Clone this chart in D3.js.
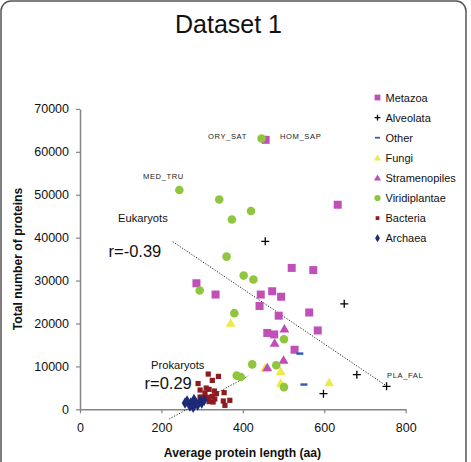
<!DOCTYPE html>
<html><head><meta charset="utf-8">
<script src="https://cdn.jsdelivr.net/npm/d3@7"></script>
<style>body{margin:0;background:#fff}svg{display:block;font-family:"Liberation Sans",Arial,sans-serif}</style>
</head><body>
<svg id="c" width="471" height="462"></svg>
<script>
// ---- data (average protein length, total number of proteins) ----
const seriesNames = ["Metazoa","Alveolata","Other","Fungi","Stramenopiles","Viridiplantae","Bacteria","Archaea"];
const metazoa = [[456,62790],[633,47670],[520,32950],[573,32440],[286,29370],[333,26740],[444,26740],[472,27510],[494,26230],[441,24070],[488,21810],[563,22560],[584,18370],[460,17790],[477,17440],[527,13880]];
const alveolata = [[455,39140],[649,24580],[680,8070],[753,5350],[598,3650]];
const other = [[540,12980],[550,5770]];
const fungi = [[370,20070],[493,8840],[493,6120],[612,6210],[454,9600]];
const stramenopiles = [[502,18720],[478,15420],[500,11470],[460,9720]];
const viridiplantae = [[446,63090],[244,51090],[342,48880],[420,46210],[373,44230],[360,35580],[402,31160],[426,30230],[294,27670],[379,22400],[501,16330],[423,10470],[482,10280],[385,7840],[395,7510],[501,5160]];
const bacteria = [[315,8210],[340,7670],[325,6740],[290,6000],[295,4490],[310,4950],[317,4650],[330,4260],[307,3790],[335,3650],[354,3880],[313,2790],[325,3020],[304,2790],[331,2400],[317,1790],[327,1700],[352,1930],[368,2090],[356,930],[295,2860]];
const archaea = [[263,1930],[272,1470],[280,2260],[285,1470],[295,1930],[299,1470],[305,2090],[270,770],[278,470],[258,1470],[289,1000]];
const eukTrend = [[228,39060],[753,5440]];
const proTrend = [[219,-2265],[413,7775]];
const xTicks = [0,200,400,600,800];
const yTicks = [0,10000,20000,30000,40000,50000,60000,70000];
const pointLabels = [["ORY_SAT",208,63000],["HOM_SAP",280,63000],["MED_TRU",143,53750],["PLA_FAL",387,7300]];

const colors = {Metazoa:"#c050b8",Alveolata:"#000",Other:"#2a5cb0",Fungi:"#f0e94c",Stramenopiles:"#c04db6",Viridiplantae:"#8fc63e",Bacteria:"#8e1b1f",Archaea:"#1c2a78"};
const allData = {Metazoa:metazoa,Alveolata:alveolata,Other:other,Fungi:fungi,Stramenopiles:stramenopiles,Viridiplantae:viridiplantae,Bacteria:bacteria,Archaea:archaea};

const svg = d3.select("#c");
svg.append("rect").attr("x",1).attr("y",1).attr("width",465).attr("height",475).attr("rx",10)
  .attr("fill","#fff").attr("stroke","#555").attr("stroke-width",1.5);

const x = d3.scaleLinear().domain([0,800]).range([80,405.7]);
const y = d3.scaleLinear().domain([0,70000]).range([409.3,108.9]);

// axes
const gx = svg.append("g").attr("transform","translate(0,409.3)")
  .call(d3.axisBottom(x).tickValues(xTicks).tickSize(4).tickSizeOuter(0).tickPadding(10).tickFormat(d3.format("d")));
const gy = svg.append("g").attr("transform","translate(80,0)")
  .call(d3.axisLeft(y).tickValues(yTicks).tickSize(4).tickSizeOuter(0).tickPadding(7).tickFormat(d3.format("d")));
[gx,gy].forEach(g=>{
  g.select(".domain").attr("stroke","#858585").attr("stroke-width",1.5);
  g.selectAll(".tick line").attr("stroke","#858585").attr("stroke-width",1.2);
  g.selectAll(".tick text").attr("font-size",12.5).attr("fill","#111").attr("font-family","Liberation Sans, Arial, sans-serif");
});

// trend lines
const line = d3.line().x(d=>x(d[0])).y(d=>y(d[1]));
[eukTrend,proTrend].forEach(t=>svg.append("path").attr("d",line(t)).attr("fill","none")
  .attr("stroke","#222").attr("stroke-width",1).attr("stroke-dasharray","1.2,1.6"));

// markers
function drawMarker(g, name, cx, cy, s){
  const c = colors[name];
  if(name==="Metazoa"){ g.append("rect").attr("x",cx-4*s).attr("y",cy-4*s).attr("width",8*s).attr("height",8*s).attr("fill",c); }
  else if(name==="Alveolata"){ g.append("path").attr("d",`M${cx-4*s},${cy}H${cx+4*s}M${cx},${cy-4*s}V${cy+4*s}`).attr("stroke",c).attr("stroke-width",1.3); }
  else if(name==="Other"){ g.append("rect").attr("x",cx-3.5*s).attr("y",cy-1.2*s).attr("width",7*s).attr("height",2.4*s).attr("fill",c); }
  else if(name==="Fungi"||name==="Stramenopiles"){ g.append("path").attr("d",d3.symbol(d3.symbolTriangle, 42*s*s)()).attr("transform",`translate(${cx},${cy+0.8*s})`).attr("fill",c); }
  else if(name==="Viridiplantae"){ g.append("circle").attr("cx",cx).attr("cy",cy).attr("r",4.3*s).attr("fill",c); }
  else if(name==="Bacteria"){ g.append("rect").attr("x",cx-2.6*s).attr("y",cy-2.6*s).attr("width",5.2*s).attr("height",5.2*s).attr("fill",c); }
  else if(name==="Archaea"){ g.append("path").attr("d",d3.symbol(d3.symbolDiamond, 38*s*s)()).attr("transform",`translate(${cx},${cy})`).attr("fill",c); }
}
const gm = svg.append("g");
seriesNames.forEach(n=>allData[n].forEach(d=>drawMarker(gm,n,x(d[0]),y(d[1]),1)));

// legend
const lg = svg.append("g");
seriesNames.forEach((n,i)=>{
  const ly = 97.5 + i*20.1;
  drawMarker(lg,n,377.5,ly,0.72);
  lg.append("text").attr("x",385.5).attr("y",ly+4).attr("font-size",11).attr("fill","#111").text(n);
});

// annotations
svg.append("text").attr("x",228.5).attr("y",32.5).attr("text-anchor","middle").attr("font-size",25).attr("fill","#111").text("Dataset 1");
pointLabels.forEach(p=>svg.append("text").attr("x",p[1]).attr("y",y(p[2])).attr("font-size",7.6).attr("letter-spacing",0.6).attr("fill","#222").text(p[0]));
svg.append("text").attr("x",118).attr("y",222).attr("font-size",11.2).attr("fill","#111").text("Eukaryots");
svg.append("text").attr("x",108.5).attr("y",256.5).attr("font-size",16.5).attr("fill","#111").text("r=-0.39");
svg.append("text").attr("x",151).attr("y",368.5).attr("font-size",11.2).attr("fill","#111").text("Prokaryots");
svg.append("text").attr("x",144.5).attr("y",388.5).attr("font-size",16.5).attr("fill","#111").text("r=0.29");

// axis titles
svg.append("text").attr("x",242.5).attr("y",457).attr("text-anchor","middle").attr("font-size",12.2).attr("font-weight","bold").attr("fill","#111").text("Average protein length (aa)");
svg.append("text").attr("transform","translate(22,259) rotate(-90)").attr("text-anchor","middle").attr("font-size",12.2).attr("font-weight","bold").attr("fill","#111").text("Total number of proteins");
</script>
</body></html>
